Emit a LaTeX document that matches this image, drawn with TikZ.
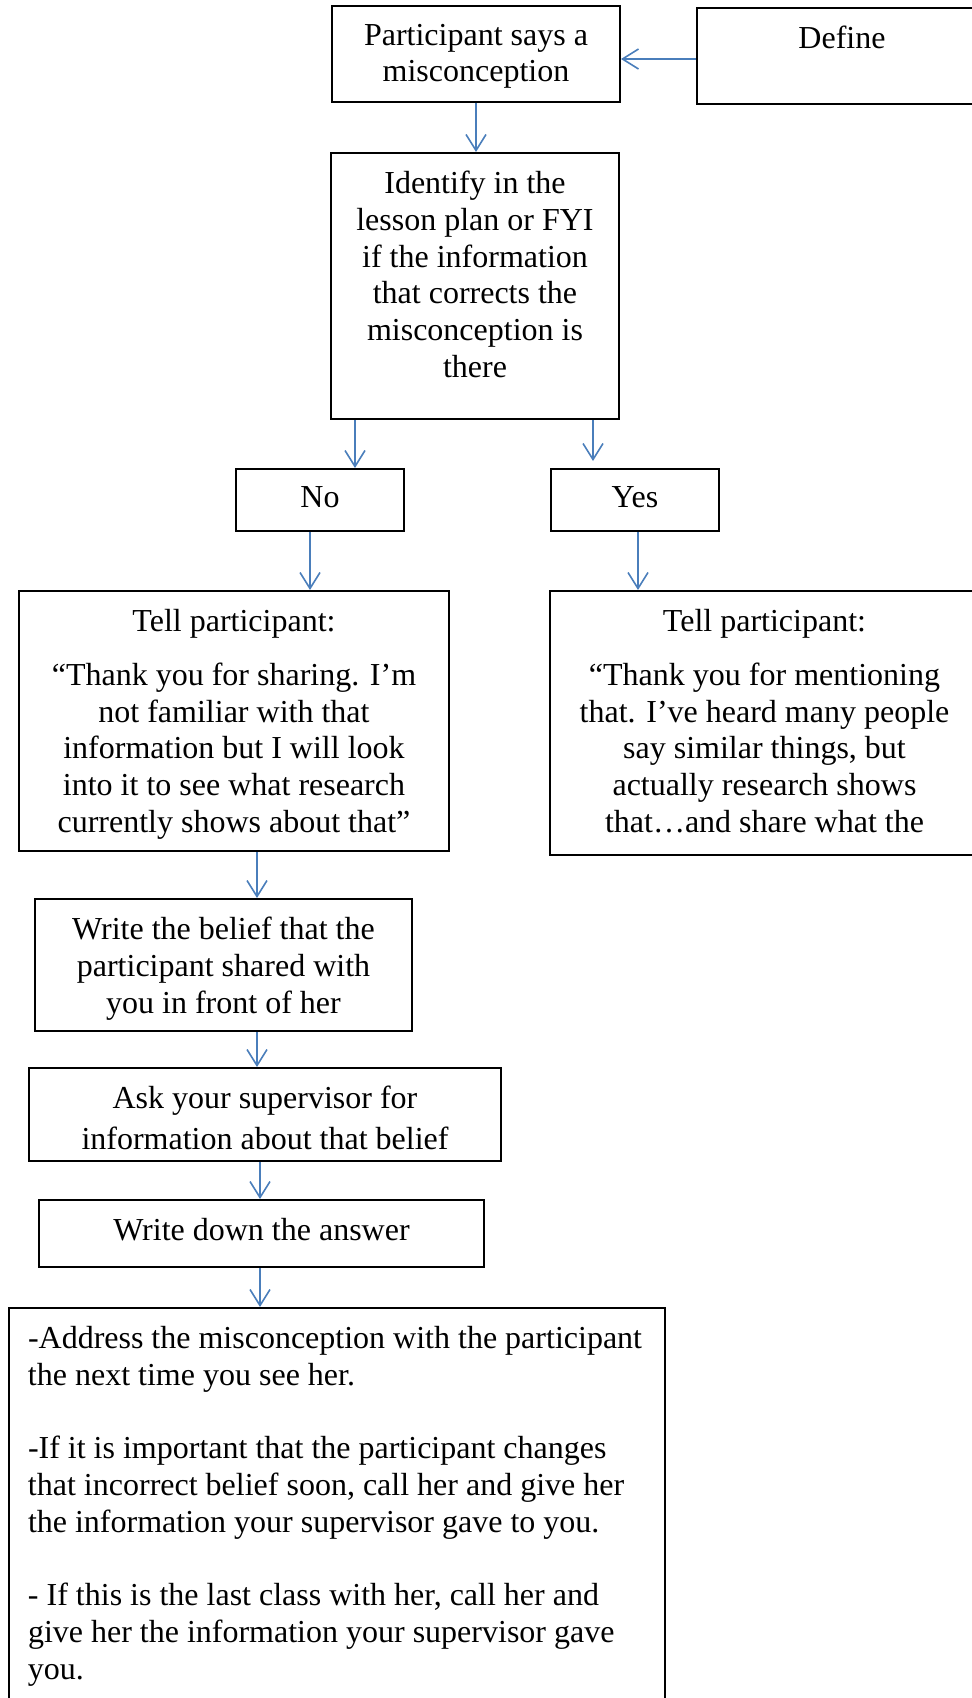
\documentclass[tikz,border=0pt]{standalone}
\usepackage{fontspec}
\setmainfont{Liberation Serif}
\usepackage{xcolor}
\usetikzlibrary{arrows.meta,positioning,calc}
\definecolor{linkblue}{HTML}{4A7EBB}

\begin{document}
\begin{tikzpicture}[
    x=0.5pt, y=-0.5pt,
    flowbox/.style={draw=black, line width=1pt, inner sep=0pt, anchor=north west,
                    font=\fontsize{16}{18.4}\selectfont},
    boxsize/.style 2 args={execute at begin node={\begin{minipage}[t][#2][t]{#1}\vspace*{9pt}\centering},
                           execute at end node={\end{minipage}}},
    arrow/.style={-{Straight Barb[length=8pt,width=10pt]}, line width=0.8pt, color=linkblue},
]
\useasboundingbox (0,0) rectangle (972,1698);
\clip (0,0) rectangle (972,1698);

\node[flowbox,boxsize={144pt}{48pt}] (say) at (331,5) {Participant says a\\misconception};
\node[flowbox,boxsize={145pt}{48pt}] (define) at (696,7) {Define};
\node[flowbox,boxsize={144pt}{133pt}] (identify) at (330,152) {Identify in the\\lesson plan or FYI\\if the information\\that corrects the\\misconception is\\there};
\node[flowbox,boxsize={84pt}{31pt}] (no) at (235,468) {No};
\node[flowbox,boxsize={84pt}{31pt}] (yes) at (550,468) {Yes};
\node[flowbox,boxsize={215pt}{130pt}] (tellno) at (18,590) {Tell participant:\\[8.6pt]“Thank you for sharing. I’m\\not familiar with that\\information but I will look\\into it to see what research\\currently shows about that”};
\node[flowbox,boxsize={214.5pt}{132pt}] (tellyes) at (549,590) {Tell participant:\\[8.6pt]“Thank you for mentioning\\that. I’ve heard many people\\say similar things, but\\actually research shows\\that…and share what the};
\node[flowbox,boxsize={188.5pt}{66pt}] (belief) at (34,898) {Write the belief that the\\participant shared with\\you in front of her};
\node[flowbox,boxsize={236pt}{46.5pt}] (ask) at (28,1067) {Ask your supervisor for\\[2pt]information about that belief};
\node[flowbox,boxsize={222.5pt}{33.5pt}] (answer) at (38,1199) {Write down the answer};
\node[flowbox,boxsize={328pt}{210pt}] (address) at (8,1307) {\raggedright\leftskip=9.5pt
  -Address the misconception with the participant\\the next time you see her.\\[18.4pt]
  -If it is important that the participant changes\\that incorrect belief soon, call her and give her\\the information your supervisor gave to you.\\[18.4pt]
  - If this is the last class with her, call her and\\give her the information your supervisor gave\\you.\par};

\draw[arrow] (say.south) -- (say.south |- identify.north);
\draw[arrow] (define.west |- 0,59) -- (say.east |- 0,59);
\draw[arrow] (identify.south -| 355,0) -- (no.north -| 355,0);
\draw[arrow,shorten >=3.5pt] (identify.south -| 593,0) -- (yes.north -| 593,0);
\draw[arrow] (no.south -| 310,0) -- (tellno.north -| 310,0);
\draw[arrow] (yes.south -| 638,0) -- (tellyes.north -| 638,0);
\draw[arrow] (tellno.south -| 257,0) -- (belief.north -| 257,0);
\draw[arrow] (belief.south -| 257,0) -- (ask.north -| 257,0);
\draw[arrow] (ask.south -| 260,0) -- (answer.north -| 260,0);
\draw[arrow] (answer.south -| 260,0) -- (address.north -| 260,0);
\end{tikzpicture}
\end{document}
